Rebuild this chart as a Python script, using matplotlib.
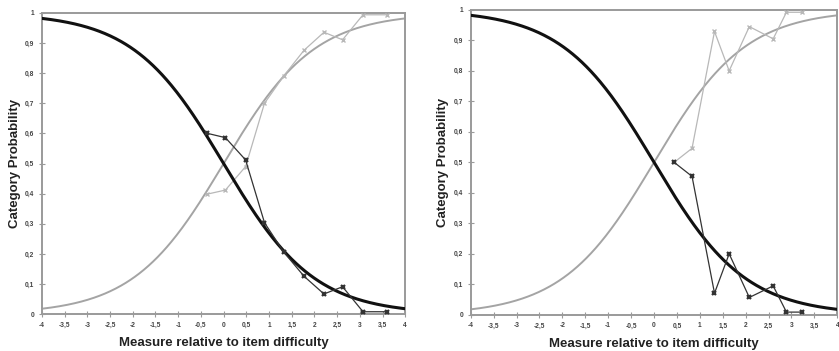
import numpy as np
import matplotlib
matplotlib.use("Agg")
import matplotlib.pyplot as plt

plt.rcParams["font.family"] = ["Liberation Sans", "DejaVu Sans"]

# observed proportions, left panel
left_x = [-0.375, 0.04, 0.485, 0.90, 1.32, 1.77, 2.21, 2.62, 3.07, 3.60]
left_low = [0.601, 0.586, 0.512, 0.304, 0.207, 0.126, 0.067, 0.091, 0.008, 0.008]
left_high = [0.398, 0.412, 0.490, 0.700, 0.790, 0.876, 0.936, 0.911, 0.994, 0.994]

# observed proportions, right panel
right_x = [0.44, 0.83, 1.32, 1.64, 2.08, 2.60, 2.89, 3.24]
right_low = [0.500, 0.454, 0.071, 0.200, 0.057, 0.095, 0.009, 0.009]
right_high = [0.500, 0.546, 0.929, 0.800, 0.945, 0.905, 0.992, 0.992]

xticks = np.arange(-4, 4.01, 0.5)
yticks = np.arange(0, 1.01, 0.1)

# Rasch model category curves (item difficulty = 0)
theta = np.linspace(-4, 4, 400)
p_high = 1 / (1 + np.exp(-theta))
p_low = 1 - p_high

FRAME = "#9a9a9a"


def comma(v):
    s = ("%.1f" % v).rstrip("0").rstrip(".")
    if s == "-0":
        s = "0"
    return s.replace(".", ",")


def panel(ax, x, low, high):
    ax.plot(theta, p_high, color="#a4a4a4", linewidth=1.4, zorder=2)
    ax.plot(theta, p_low, color="#111111", linewidth=2.2, zorder=4)
    ax.plot(x, high, "-x", color="#b8b8b8", linewidth=0.9, markersize=3.5,
            markeredgewidth=1.0, zorder=3)
    ax.plot(x, low, "-x", color="#333333", linewidth=0.9, markersize=3.5,
            markeredgewidth=1.6, zorder=5)
    ax.set_xlim(-4, 4)
    ax.set_ylim(0, 1)
    ax.set_xticks(xticks)
    ax.set_xticklabels([comma(v) for v in xticks])
    ax.set_yticks(yticks)
    ax.set_yticklabels([comma(v) for v in yticks])
    ax.tick_params(axis="both", labelsize=4.8, colors="#444444",
                   direction="inout", length=4, width=0.8)
    ax.tick_params(axis="both", color=FRAME)
    for lab in ax.get_xticklabels() + ax.get_yticklabels():
        lab.set_fontweight("bold")
    for s in ax.spines.values():
        s.set_color(FRAME)
        s.set_linewidth(1.4)
    ax.set_xlabel("Measure relative to item difficulty", fontsize=9.5,
                  fontweight="bold", color="#222222", labelpad=6)
    ax.set_ylabel("Category Probability", fontsize=9.5,
                  fontweight="bold", color="#222222", labelpad=3)


fig = plt.figure(figsize=(8.39, 3.51), dpi=100)
ax1 = fig.add_axes([0.050, 0.105, 0.433, 0.858])
ax2 = fig.add_axes([0.561, 0.103, 0.437, 0.869])

panel(ax1, left_x, left_low, left_high)
panel(ax2, right_x, right_low, right_high)

fig.savefig("out.png", dpi=100)
